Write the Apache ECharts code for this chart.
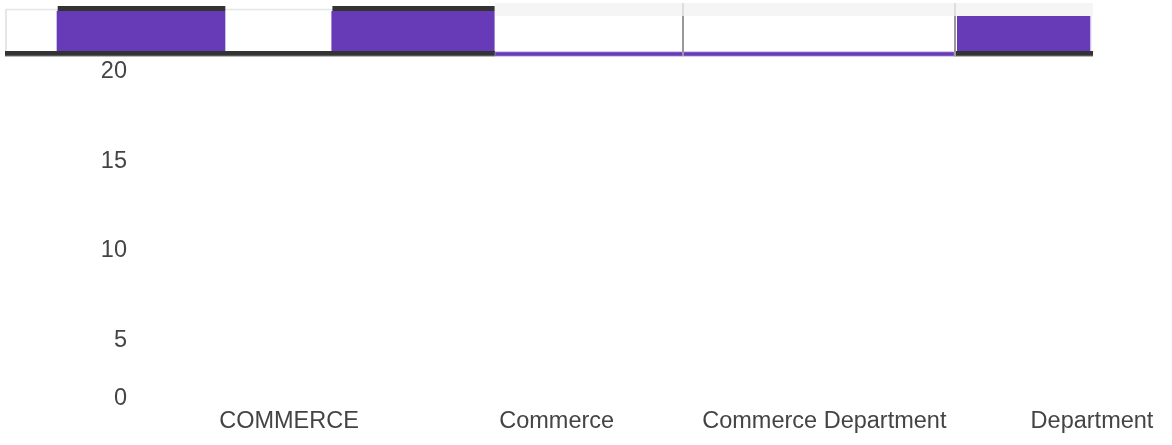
<!DOCTYPE html>
<html>
<head>
<meta charset="utf-8">
<script src="https://cdn.jsdelivr.net/npm/echarts@6/dist/echarts.min.js"></script>
<style>
html,body{margin:0;padding:0;background:#fff;}
#chart{width:1172px;height:445px;}
</style>
</head>
<body>
<div id="chart"></div>
<script>
// Main chart data
const categories = ['COMMERCE', 'Commerce', 'Commerce Department', 'Department'];
const mainValues = [0, 0, 0, 0];
const yTicks = [0, 5, 10, 15, 20];

// Overview strip data (range filter bars)
const overviewStart = [0.19, 1.2, 3.5];
const overviewEnd = [0.81, 1.8, 3.99];
const overviewValue = [20, 20, 17.5];

const PURPLE = '#673ab7';
const DARK = '#333333';
const TEXT = '#444444';
const FONT = '"Liberation Sans", Arial, sans-serif';

const chart = echarts.init(document.getElementById('chart'), null, {renderer: 'canvas'});

const overviewData = overviewStart.map((s, i) => [s, overviewEnd[i], overviewValue[i]]);

const option = {
  animation: false,
  backgroundColor: '#ffffff',
  textStyle: {fontFamily: FONT},
  grid: [
    {left: 289, right: 80, top: 72, bottom: 15, containLabel: false},
    {left: 5, width: 1088, top: 3, height: 48, containLabel: false}
  ],
  xAxis: [
    {
      type: 'category', gridIndex: 0, data: categories, boundaryGap: false,
      axisLine: {show: false}, axisTick: {show: false}, splitLine: {show: false},
      axisLabel: {
        interval: 0, color: TEXT, fontSize: 23.5, fontFamily: FONT,
        margin: -8, verticalAlign: 'middle'
      }
    },
    {
      type: 'value', gridIndex: 1, min: 0, max: 4, show: false
    }
  ],
  yAxis: [
    {
      type: 'value', gridIndex: 0, min: yTicks[0], max: yTicks[yTicks.length - 1], interval: 5,
      axisLine: {show: false}, axisTick: {show: false}, splitLine: {show: false},
      axisLabel: {
        color: TEXT, fontSize: 23.5, fontFamily: FONT, margin: 162,
        formatter: function (v) { return v === 0 ? '{z|0}' : String(v); },
        rich: {z: {fontSize: 23.5, color: TEXT, fontFamily: FONT, padding: [0, 0, 62, 0]}}
      }
    },
    {
      type: 'value', gridIndex: 1, min: 0, max: 24, show: false
    }
  ],
  graphic: [
    // left (unselected) region frame
    {type: 'line', z: 1, shape: {x1: 6, y1: 9.5, x2: 495, y2: 9.5}, style: {stroke: '#e6e6e6', lineWidth: 1.5}},
    {type: 'line', z: 1, shape: {x1: 6, y1: 9, x2: 6, y2: 51}, style: {stroke: '#e6e6e6', lineWidth: 2}},
    // top light band of right region
    {type: 'rect', z: 1, shape: {x: 495, y: 3, width: 598, height: 13}, style: {fill: '#f5f5f5'}},
    // bottom strips
    {type: 'rect', z: 1, shape: {x: 5, y: 51, width: 490, height: 5}, style: {fill: DARK}},
    {type: 'line', z: 1, shape: {x1: 5, y1: 56, x2: 495, y2: 56}, style: {stroke: '#777', lineWidth: 1}},
    {type: 'rect', z: 1, shape: {x: 495, y: 52, width: 459, height: 4}, style: {fill: PURPLE, stroke: '#9a7fd1', lineWidth: 0.8}},
    {type: 'rect', z: 1, shape: {x: 954, y: 51, width: 139, height: 5}, style: {fill: DARK}},
    {type: 'line', z: 1, shape: {x1: 954, y1: 56, x2: 1093, y2: 56}, style: {stroke: '#777', lineWidth: 1}},
    // handles
    {type: 'line', z: 1, shape: {x1: 683, y1: 3, x2: 683, y2: 16}, style: {stroke: '#dddddd', lineWidth: 2}},
    {type: 'line', z: 1, shape: {x1: 683, y1: 16, x2: 683, y2: 56}, style: {stroke: '#999999', lineWidth: 2}},
    {type: 'line', z: 1, shape: {x1: 955, y1: 3, x2: 955, y2: 16}, style: {stroke: '#dddddd', lineWidth: 2}},
    {type: 'line', z: 1, shape: {x1: 955, y1: 16, x2: 955, y2: 56}, style: {stroke: '#999999', lineWidth: 2}}
  ],
  series: [
    {
      type: 'bar', xAxisIndex: 0, yAxisIndex: 0, data: mainValues,
      itemStyle: {color: PURPLE}, barWidth: '60%'
    },
    {
      type: 'custom', xAxisIndex: 1, yAxisIndex: 1, data: overviewData,
      encode: {x: [0, 1], y: 2},
      clip: false,
      renderItem: function (params, api) {
        const p0 = api.coord([api.value(0), 0]);
        const p1 = api.coord([api.value(1), api.value(2)]);
        const x = p0[0], w = p1[0] - p0[0];
        const yTop = p1[1], h = p0[1] - p1[1];
        const children = [
          {type: 'rect', shape: {x: x, y: yTop, width: w, height: h}, style: {fill: PURPLE}}
        ];
        if (api.value(1) <= 1.8) {
          children.push({type: 'rect', shape: {x: x + 1, y: yTop - 5, width: w - 1, height: 5}, style: {fill: DARK}});
        } else {
          children.push({type: 'line', shape: {x1: x + w + 0.5, y1: yTop, x2: x + w + 0.5, y2: yTop + h}, style: {stroke: '#c9bce6', lineWidth: 1}});
        }
        return {type: 'group', children: children};
      }
    }
  ]
};

chart.setOption(option);
</script>
</body>
</html>
